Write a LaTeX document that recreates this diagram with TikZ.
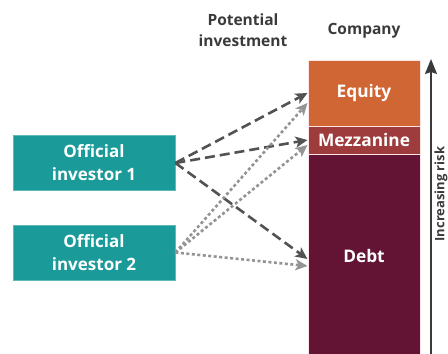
\documentclass[tikz,border=0pt]{standalone}
\usepackage{fontspec}
\setmainfont{Open Sans}
\usetikzlibrary{arrows.meta}
\definecolor{teal}{HTML}{1A9B9A}
\definecolor{equity}{HTML}{D06634}
\definecolor{mezz}{HTML}{9E3B3D}
\definecolor{debt}{HTML}{631333}
\definecolor{txt}{HTML}{3A3A3A}
\begin{document}
\begin{tikzpicture}[x=1pt,y=-1pt,
    investor/.style={fill=teal,draw=teal!70!white,line width=0.8pt,minimum width=162pt,minimum height=55pt,
      text=white,font=\fontsize{17}{23}\selectfont\bfseries,align=center,inner sep=0pt},
    layer/.style={draw=red!10!white,line width=1pt,minimum width=112pt,inner sep=0pt,
      text=white,font=\fontsize{17.3}{20}\selectfont\bfseries},
    head/.style={text=txt,font=\fontsize{15.5}{21}\selectfont\bfseries,align=center},
    dashlink/.style={draw=black!68,line width=2.6pt,dash pattern=on 10pt off 5pt,
      -{Stealth[length=12pt,width=11pt,inset=3pt]}},
    dotlink/.style={draw=black!42,line width=2.6pt,dash pattern=on 3pt off 2.5pt,
      -{Stealth[length=12pt,width=11pt,inset=3pt]}}]
    \useasboundingbox (0,0) rectangle (448,354); % page
    \node[investor] (inv1) at (94,163) {Official\\investor 1}; % investor 1
    \node[investor] (inv2) at (94,252.5) {Official\\investor 2}; % investor 2
    \node[layer,fill=equity,minimum height=66pt] (equity) at (364,93) {Equity}; % equity
    \node[layer,fill=mezz,minimum height=28pt] (mezz) at (364,140) {Mezzanine}; % mezzanine
    \node[layer,fill=debt,minimum height=204pt] (debt) at (364,256) {Debt}; % debt
    \node[head] (potential) at (243,30) {Potential\\investment}; % header
    \node[head] (company) at (364,31) {Company}; % header
    \foreach \target/\dy in {equity/0,mezz/0,debt/-3}
        \draw[dashlink] (inv1.east) -- ([yshift=\dy pt]\target.west); % dashed links
    \foreach \target/\dy in {equity/-10,mezz/-5,debt/-10}
        \draw[dotlink] (inv2.east) -- ([yshift=\dy pt]\target.west); % dotted links
    \coordinate (riskbottom) at (431,356);
    \coordinate (risktop) at (431,59);
    \draw[draw=txt,line width=1.4pt,-{Stealth[length=15pt,width=12pt,inset=2pt]}] (riskbottom) -- (risktop); % risk axis
    \node[text=txt,font=\fontsize{13}{16}\selectfont\bfseries,rotate=90,anchor=base] (risk) at (444.3,194) {Increasing risk}; % risk label
\end{tikzpicture}
\end{document}
